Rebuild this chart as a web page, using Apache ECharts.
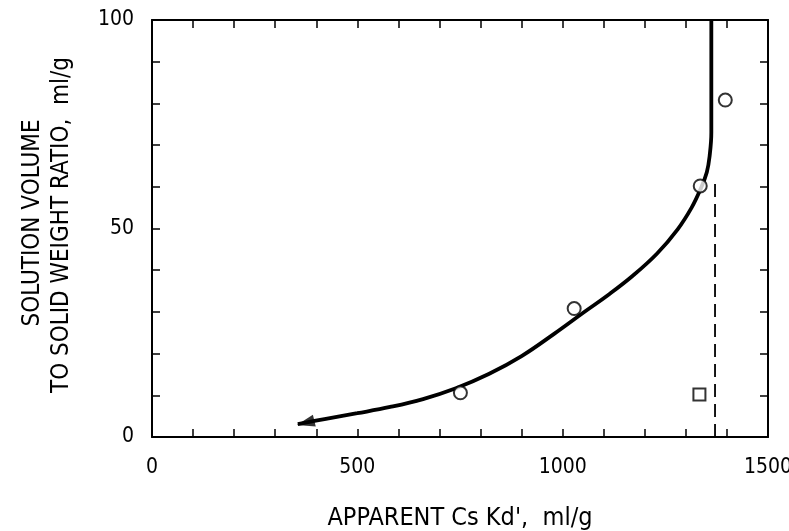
<!DOCTYPE html>
<html><head><meta charset="utf-8">
<script src="https://cdn.jsdelivr.net/npm/echarts@6/dist/echarts.min.js"></script>
<style>html,body{margin:0;padding:0;background:#fff}#c{width:789px;height:531px}</style>
</head><body><div id="c"></div>
<script>
// Fitted curve: [Kd', ratio]
const curveKd =    [355, 420, 500, 580, 660, 740, 820, 900, 980, 1050, 1110, 1170, 1230, 1280, 1314, 1336, 1351, 1358, 1362, 1362];
const curveRatio = [3.1, 4.3, 5.7, 7.2, 9.1, 11.7, 15.1, 19.4, 24.8, 29.8, 34.0, 38.6, 44.0, 49.8, 55.0, 59.5, 63.5, 67.5, 73, 100];
// Arrowhead position (lower-left end of curve)
const arrowKd = [374];
const arrowRatio = [3.4];
// Measured points (circles)
const circleKd =    [751, 1028, 1335, 1396];
const circleRatio = [10.6, 30.8, 60.2, 80.8];
// Square point
const squareKd = [1333];
const squareRatio = [10.2];
// Dashed asymptote
const dashKd = [1371, 1371];
const dashRatio = [0, 62];
// Tick labels
const xTickLabels = [0, 500, 1000, 1500];
const yTickLabels = [0, 50, 100];

const FONT = '"DejaVu Sans Condensed", "DejaVu Sans", sans-serif';
const zip = (a, b) => a.map((v, i) => [v, b[i]]);

const chart = echarts.init(document.getElementById('c'), null, {renderer: 'canvas'});
const axisCommon = {
  axisLine: {show: true, onZero: false, lineStyle: {color: '#000', width: 2}},
  axisTick: {show: true, inside: true, length: 8, lineStyle: {color: '#000', width: 1.5}},
  splitLine: {show: false}
};
chart.setOption({
  animation: false,
  backgroundColor: '#fff',
  grid: {left: 152, right: 21, top: 20, bottom: 94, containLabel: false, outerBoundsMode: 'none'},
  xAxis: [
    Object.assign({type: 'value', min: 0, max: 1500, interval: 100, position: 'bottom',
      axisLabel: {margin: 20, color: '#000', fontSize: 21, fontFamily: FONT,
        formatter: v => xTickLabels.includes(v) ? String(v) : ''},
      name: "APPARENT Cs Kd',  ml/g", nameLocation: 'middle', nameGap: 69,
      nameTextStyle: {color: '#000', fontSize: 25, fontFamily: FONT}}, axisCommon),
    Object.assign({type: 'value', min: 0, max: 1500, interval: 100, position: 'top',
      axisLabel: {show: false}}, axisCommon)
  ],
  yAxis: [
    Object.assign({type: 'value', min: 0, max: 100, interval: 10, position: 'left',
      axisLabel: {margin: 18, color: '#000', fontSize: 21, fontFamily: FONT,
        formatter: v => yTickLabels.includes(v) ? String(v) : ''}}, axisCommon),
    Object.assign({type: 'value', min: 0, max: 100, interval: 10, position: 'right',
      axisLabel: {show: false}}, axisCommon)
  ],
  graphic: [
    {type: 'text', rotation: Math.PI / 2, x: 33, y: 223,
      style: {text: 'SOLUTION VOLUME', fill: '#000', font: '24px ' + FONT, textAlign: 'center', textVerticalAlign: 'middle'}},
    {type: 'text', rotation: Math.PI / 2, x: 62, y: 225,
      style: {text: 'TO SOLID WEIGHT RATIO,  ml/g', fill: '#000', font: '24px ' + FONT, textAlign: 'center', textVerticalAlign: 'middle'}}
  ],
  series: [
    {type: 'line', data: zip(curveKd, curveRatio), smooth: 0.4, showSymbol: false, symbol: 'none',
      lineStyle: {color: '#000', width: 3.8}, z: 3},
    {type: 'scatter', data: zip(arrowKd, arrowRatio), symbol: 'triangle', symbolSize: [12, 18],
      symbolRotate: 104, itemStyle: {color: '#000'}, z: 4},
    {type: 'line', data: zip(dashKd, dashRatio), showSymbol: false, symbol: 'none',
      lineStyle: {color: '#000', width: 1.8, type: [13, 7]}, z: 2},
    {type: 'scatter', data: zip(circleKd, circleRatio), symbol: 'circle', symbolSize: 13,
      itemStyle: {color: '#fff', borderColor: '#000', borderWidth: 2}, z: 5},
    {type: 'scatter', data: zip(squareKd, squareRatio), symbol: 'rect', symbolSize: 12,
      itemStyle: {color: '#fff', borderColor: '#000', borderWidth: 2}, z: 5}
  ]
});
</script></body></html>
